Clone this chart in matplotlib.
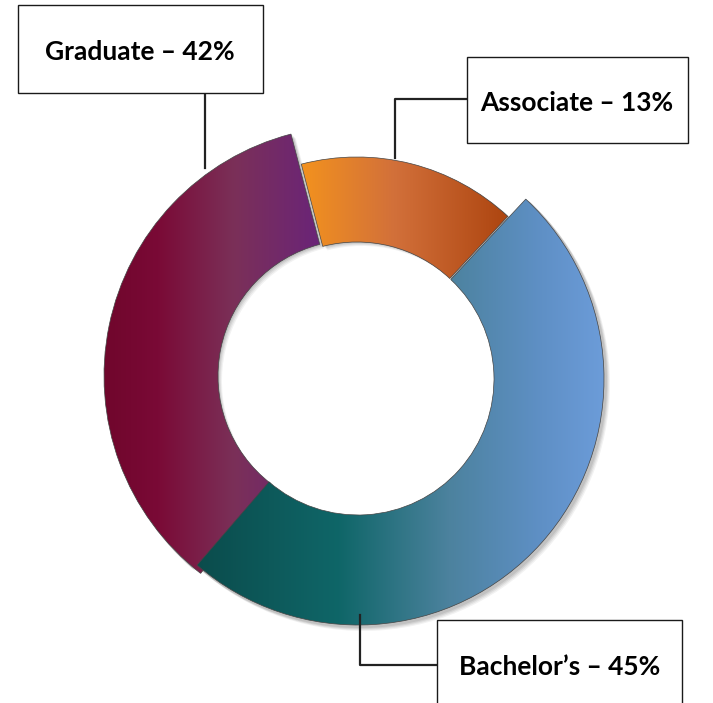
import numpy as np
import matplotlib
matplotlib.use("Agg")
import matplotlib.pyplot as plt
from matplotlib.patches import Wedge, Rectangle
from matplotlib.colors import LinearSegmentedColormap

# ---- data ----
categories = ["Associate", "Graduate", "Bachelor\u2019s"]
pct_labels = [13, 42, 45]                # values printed in the labels
arc_shares = [16.0, 34.6, 49.4]          # ring share of each arc as drawn in the picture (%)
start_angle = 47.0                       # where the Associate arc begins (deg, counter-clockwise)

W, H = 713, 703
fig = plt.figure(figsize=(W / 100, H / 100), dpi=100)
ax = fig.add_axes([0, 0, 1, 1])
ax.set_xlim(0, W)
ax.set_ylim(0, H)
ax.set_aspect("equal")
ax.axis("off")

cx, cy = 357, 325
r_in = 136
r_out = {"Associate": 221, "Graduate": 250, "Bachelor\u2019s": 246}
offset = {"Associate": (0, 0), "Graduate": (-3, 2), "Bachelor\u2019s": (1, -1)}
tuck = {"Associate": 0.0, "Graduate": 3.0, "Bachelor\u2019s": 0.0}   # hidden overlap under the next arc
grad = {
    "Associate": [(0.0, "#f3921e"), (0.45, "#d2703a"), (1.0, "#ad4510")],
    "Graduate": [(0.0, "#70062c"), (0.25, "#7a0a36"), (0.6, "#7b3058"), (1.0, "#6a2478")],
    "Bachelor\u2019s": [(0.0, "#0b4c4c"), (0.35, "#0f6668"), (0.62, "#4c829e"), (0.85, "#5f90c6"), (1.0, "#6c9cd9")],
}

angles = []
a = start_angle
for s in arc_shares:
    span = s / 100 * 360
    angles.append((a, a + span))
    a += span

# shadows
for cat, (a0, a1) in zip(categories, angles):
    ox, oy = offset[cat]
    for dx, dy, al in [(5, -5, 0.05), (4, -4, 0.06), (3, -3, 0.07), (2, -2, 0.08)]:
        sh = Wedge((cx + ox + dx, cy + oy + dy), r_out[cat] + 1, a0, a1,
                   width=r_out[cat] - r_in, facecolor="#000000", alpha=al,
                   edgecolor="none", zorder=1)
        ax.add_patch(sh)

for i, (cat, (a0, a1)) in enumerate(zip(categories, angles)):
    ox, oy = offset[cat]
    a1 = a1 + tuck[cat]
    z = 2 + i * 0.1
    w = Wedge((cx + ox, cy + oy), r_out[cat], a0, a1, width=r_out[cat] - r_in,
              facecolor="none", edgecolor="#444444", lw=0.5, zorder=z + 0.05)
    ax.add_patch(w)
    cmap = LinearSegmentedColormap.from_list(cat, grad[cat])
    th = np.radians(np.linspace(a0, a1, 200))
    xs = np.concatenate([cx + ox + r_out[cat] * np.cos(th), cx + ox + r_in * np.cos(th)])
    ys = np.concatenate([cy + oy + r_out[cat] * np.sin(th), cy + oy + r_in * np.sin(th)])
    xmin, xmax, ymin, ymax = xs.min(), xs.max(), ys.min(), ys.max()
    img = np.linspace(0, 1, 256)[None, :]
    im = ax.imshow(img, cmap=cmap, extent=(xmin, xmax, ymin, ymax), aspect="auto",
                   origin="lower", zorder=z, interpolation="bicubic")
    clip = Wedge((cx + ox, cy + oy), r_out[cat], a0, a1, width=r_out[cat] - r_in,
                 transform=ax.transData)
    im.set_clip_path(clip)

ax.set_xlim(0, W)
ax.set_ylim(0, H)

font = ["Lato", "DejaVu Sans"]
boxes = {
    "Graduate": (18, 610, 245, 88, 140, 651),
    "Associate": (467, 560, 221, 86, 577, 600),
    "Bachelor\u2019s": (437, -5, 245, 88, 560, 36),
}
for cat, p in zip(categories, pct_labels):
    bx, by, bw, bh, tx, ty = boxes[cat]
    ax.add_patch(Rectangle((bx, by), bw, bh, facecolor="white", edgecolor="#1a1a1a",
                           lw=1.0, zorder=5))
    ax.text(tx, ty, f"{cat} \u2013 {p}%", ha="center", va="center", fontsize=19,
            fontweight="bold", family=font, color="black", zorder=6)

lc = "#222222"
ax.plot([205, 205], [610, 535], color=lc, lw=1.6, zorder=4)
ax.plot([467, 395, 395], [604, 604, 545], color=lc, lw=1.6, zorder=4)
ax.plot([437, 360, 360], [38, 38, 88], color=lc, lw=1.6, zorder=4)

fig.savefig("out.png", dpi=100, facecolor="white")
